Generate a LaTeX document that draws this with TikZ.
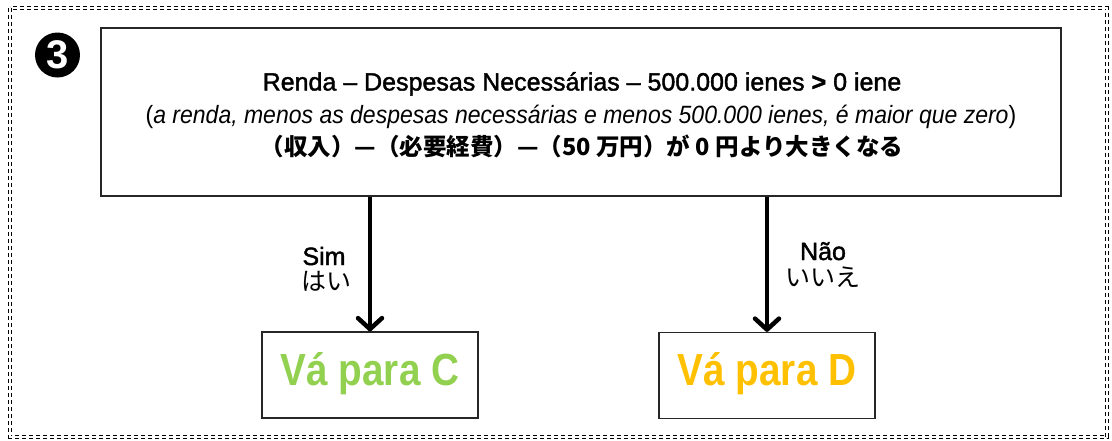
\documentclass[tikz,border=0pt]{standalone}
\usepackage{fontspec}
\setmainfont{Liberation Sans}
\newfontfamily\mediumfont{Liberation Sans}[FakeBold=1.6]
\newfontfamily\itfont{Liberation Sans}[FakeStretch=0.92]
\newfontfamily\gotofont{Liberation Sans}[FakeStretch=0.86]
\newfontfamily\jpfont{Noto Sans CJK JP}
\usetikzlibrary{arrows.meta}
\definecolor{goC}{HTML}{92D050}
\definecolor{goD}{HTML}{FFC000}

\begin{document}
\begin{tikzpicture}[x=1pt,y=-1pt,
	box/.style={draw=black!85,line width=1.3pt,inner sep=0pt},
	goto/.style={box,minimum width=216pt,minimum height=86pt,text height=32pt,text depth=12pt,font=\gotofont\bfseries\fontsize{45}{45}\selectfont},
	flow/.style={line width=4.5pt,-{Straight Barb[length=11pt,width=24pt,round]}},
	answer/.style={anchor=base,inner sep=0pt,font=\mediumfont\fontsize{25}{25}\selectfont},
	answerjp/.style={anchor=base,inner sep=0pt,font=\jpfont\fontsize{25}{25}\selectfont}]
				\useasboundingbox (0,0) rectangle (1112,440);
				\draw[line width=0.9pt,double,double distance=1.6pt,dash pattern=on 4pt off 3pt] (10,8) rectangle (1107,437);
				
				\node[circle,fill=black,minimum size=45pt,inner sep=0pt,text=white,font=\bfseries\fontsize{40}{40}\selectfont] (badge) at (57.5,55) {3};
				
				\node[box,minimum width=960pt,minimum height=168pt] (cond) at (581,112) {};
				\node[anchor=base,font=\mediumfont\fontsize{25}{25}\selectfont] (rendapt) at (582,90.5) {Renda – Despesas Necessárias – 500.000 ienes \textbf{>} 0 iene};
				\node[anchor=base,font=\itfont\fontsize{25}{25}\selectfont] (rendait) at (581,123) {(\textit{a renda, menos as despesas necessárias e menos 500.000 ienes, é maior que zero})};
				\node[anchor=base,font=\jpfont\bfseries\fontsize{23.5}{23.5}\selectfont] (rendajp) at (582,155) {（収入）—（必要経費）—（50 万円）が 0 円より大きくなる};
				
				\node[goto,text=goC] (gotoC) at (370,375) {Vá para C};
				\node[goto,text=goD] (gotoD) at (767,375.5) {Vá para D};
				
				\draw[flow] (cond.south -| gotoC) -- (gotoC.north);
				\draw[flow] (cond.south -| gotoD) -- (gotoD.north);
				
				\node[answer] (sim) at (324,265) {Sim};
				\node[answerjp] (hai) at (326,290) {はい};
				\node[answer] (nao) at (823,260) {Não};
				\node[answerjp] (iie) at (823,286) {いいえ};
			\end{tikzpicture}
\end{document}
